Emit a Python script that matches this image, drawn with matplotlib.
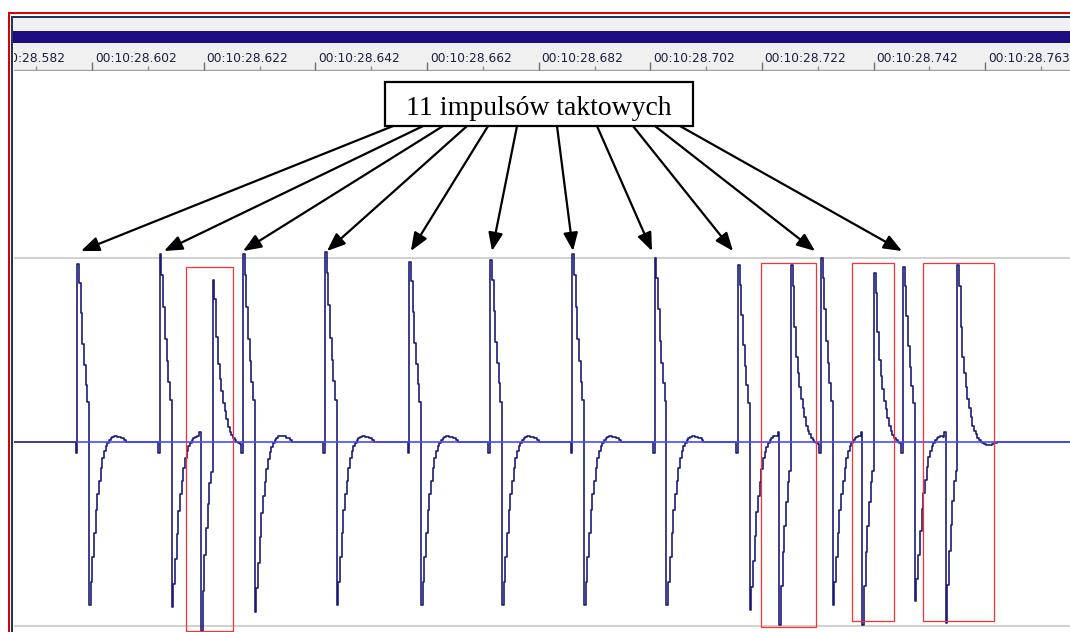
import numpy as np
import matplotlib
matplotlib.use("Agg")
import matplotlib.pyplot as plt
from matplotlib.patches import Rectangle

# ---------------- data (time: ms after 00:10:28, amplitude: full scale = 1) ----------------
TICK_MS = [582, 602, 622, 642, 662, 682, 702, 722, 742, 762]
TICK_LABELS = ["00:10:28.582", "00:10:28.602", "00:10:28.622", "00:10:28.642",
               "00:10:28.662", "00:10:28.682", "00:10:28.702", "00:10:28.722",
               "00:10:28.742", "00:10:28.763"]
MINOR_TICK_MS = [572, 592, 612, 632, 652, 672, 692, 712, 732, 752, 772]

SAMPLE_MS = 0.3  # sample spacing seen in the stepped trace

# 11 clock pulses (positive spike first, then negative spike)
CLOCK_RISE_MS = [599.3, 614.1, 629.0, 643.7, 658.8, 673.3, 688.0, 702.8, 717.7, 732.6, 747.3]
CLOCK_PEAK = [0.97, 1.02, 1.02, 1.03, 0.98, 0.99, 1.02, 1.00, 0.96, 1.00, 0.95]
CLOCK_TROUGH = [-0.89, -0.90, -0.93, -0.89, -0.89, -0.89, -0.89, -0.89, -0.92, -0.89, -0.87]
CLOCK_PRE = -0.06
CLOCK_POS_SHAPE = [1.00, 0.89, 0.72, 0.55, 0.43, 0.32, 0.22]
CLOCK_NEG_SHAPE = [1.00, 0.86, 0.71, 0.56, 0.42, 0.32, 0.24, 0.16, 0.10, 0.06, 0.03, 0.01,
                   -0.01, -0.02, -0.03, -0.035, -0.035, -0.03, -0.03, -0.02, -0.02, -0.01, 0.0]

# extra (inverted) pulses marked with red boxes
EXTRA_FALL_MS = [621.5, 725.1, 740.0, 754.9]
EXTRA_TROUGH = [-1.03, -1.00, -1.00, -0.99]
EXTRA_PEAK = [0.88, 0.96, 0.92, 0.96]
EXTRA_PRE = 0.05
EXTRA_NEG_SHAPE = [1.00, 0.79, 0.60, 0.46, 0.33, 0.22, 0.16]
EXTRA_POS_SHAPE = [1.00, 0.88, 0.65, 0.48, 0.39, 0.31, 0.24, 0.19, 0.14, 0.09, 0.06, 0.04,
                   0.02, 0.01, 0.0, -0.01, -0.015, -0.02, -0.02, -0.02, -0.02, -0.015,
                   -0.01, -0.01, 0.0]

LABEL_TEXT = "11 impulsów taktowych"
ARROW_TIP_MS = [599.97, 614.85, 629.01, 644.06, 659.08, 673.63, 688.15, 702.30, 716.82, 731.52, 747.11]
ARROW_TAIL_MS = [655.89, 661.26, 664.85, 669.15, 672.92, 678.11, 685.28, 692.45, 698.90, 702.84, 707.32]
MARKED_BOX_MS = [(618.8, 627.2), (721.8, 731.7), (738.1, 745.7), (750.8, 763.6)]
MARKED_BOX_AMP = [(-1.033, 0.951), (-1.011, 0.973), (-0.978, 0.973), (-0.978, 0.973)]

# ---------------- layout ----------------
W, H = 1070, 632
T_LEFT, T_RIGHT = 587.97, 777.21
V_TOP, V_BOT = 2.019, -1.038

fig = plt.figure(figsize=(W / 100, H / 100), dpi=100)
fig.patch.set_facecolor("white")

# window chrome
chrome = fig.add_axes([0, 0, 1, 1], zorder=0)
chrome.set_xlim(0, W)
chrome.set_ylim(H, 0)
chrome.axis("off")
for (x, y, w, h, c) in [
    (8.3, 12.3, W, 1.5, "#e00000"),
    (8.3, 12.3, 1.7, H, "#e00000"),
    (11.0, 15.5, W, 2.2, "#243656"),
    (11.0, 15.5, 2.3, H, "#243656"),
    (13.3, 17.7, W, 13.3, "#f0f0f0"),
    (13.3, 31.0, W, 12.3, "#1d0b80"),
]:
    chrome.add_patch(Rectangle((x, y), w, h, facecolor=c, edgecolor="none"))

# ruler
ax_r = fig.add_axes([14 / W, (H - 71) / H, (W - 14) / W, (71 - 43.3) / H], zorder=2)
ax_r.set_facecolor("#f0f0f0")
ax_r.set_xlim(T_LEFT, T_RIGHT)
ax_r.set_ylim(71, 43.3)
ax_r.axis("off")
ax_r.add_patch(Rectangle((0, 0), 1, 1, transform=ax_r.transAxes, facecolor="#f0f0f0",
                         edgecolor="none", zorder=0))
ax_r.axhline(69.5, color="#a0a0a0", lw=1.0)
ax_r.vlines(TICK_MS, 62.0, 69.5, color="#707070", lw=1.0)
ax_r.vlines(MINOR_TICK_MS, 65.5, 69.5, color="#909090", lw=1.0)
for t, lab in zip(TICK_MS, TICK_LABELS):
    ax_r.text(t + 0.48, 58.0, lab, ha="left", va="center", fontsize=8.8,
              color="#1c2040", family="DejaVu Sans", clip_on=True)

# main waveform axes
ax = fig.add_axes([14 / W, 0, (W - 14) / W, (H - 71) / H], zorder=1)
ax.set_facecolor("none")
ax.set_xlim(T_LEFT, T_RIGHT)
ax.set_ylim(V_BOT, V_TOP)
for s in ax.spines.values():
    s.set_visible(False)
ax.set_xticks([])
ax.set_yticks([])

ax.axhline(1.0, color="#d0d0d0", lw=1.4, zorder=1)
ax.axhline(-1.005, color="#d0d0d0", lw=1.4, zorder=1)

# build the stepped trace from the pulse lists
segments = []
for t, pk, tr in zip(CLOCK_RISE_MS, CLOCK_PEAK, CLOCK_TROUGH):
    n = len(CLOCK_POS_SHAPE)
    pts = [(t - SAMPLE_MS, CLOCK_PRE)]
    pts += [(t + k * SAMPLE_MS, pk * s) for k, s in enumerate(CLOCK_POS_SHAPE)]
    pts += [(t + (n + k) * SAMPLE_MS, tr * s) for k, s in enumerate(CLOCK_NEG_SHAPE)]
    segments.append(pts)
for t, tr, pk in zip(EXTRA_FALL_MS, EXTRA_TROUGH, EXTRA_PEAK):
    n = len(EXTRA_NEG_SHAPE)
    pts = [(t - SAMPLE_MS, EXTRA_PRE)]
    pts += [(t + k * SAMPLE_MS, tr * s) for k, s in enumerate(EXTRA_NEG_SHAPE)]
    pts += [(t + (n + k) * SAMPLE_MS, pk * s) for k, s in enumerate(EXTRA_POS_SHAPE)]
    segments.append(pts)
segments.sort(key=lambda p: p[0][0])

ts, vs = [T_LEFT], [0.0]
for i, seg in enumerate(segments):
    nxt = segments[i + 1][0][0] if i + 1 < len(segments) else np.inf
    for t, v in seg:
        if t < nxt:
            ts.append(t)
            vs.append(v)
ts.append(T_RIGHT)
vs.append(0.0)

ax.plot(ts, vs, drawstyle="steps-post", color="#1c1c78", lw=1.2, zorder=2)
ax.plot([CLOCK_RISE_MS[0], T_RIGHT], [0, 0], color="#4a4aff", lw=1.2, zorder=3)

# red marking boxes
for (x0, x1), (y0, y1) in zip(MARKED_BOX_MS, MARKED_BOX_AMP):
    ax.add_patch(Rectangle((x0, y0), x1 - x0, y1 - y0, fill=False, edgecolor="#ff3030",
                           lw=0.9, zorder=4))

# label box + arrows
BOX_X = (654.42, 709.62)
BOX_Y = (1.719, 1.959)
ax.add_patch(Rectangle((BOX_X[0], BOX_Y[0]), BOX_X[1] - BOX_X[0], BOX_Y[1] - BOX_Y[0],
                       facecolor="white", edgecolor="black", lw=1.6, zorder=6))
ax.text((BOX_X[0] + BOX_X[1]) / 2, 1.779, LABEL_TEXT, ha="center", va="baseline",
        fontsize=20, family="Liberation Serif", color="black", zorder=7)
for tip, tail in zip(ARROW_TIP_MS, ARROW_TAIL_MS):
    ax.annotate("", xy=(tip, 1.038), xytext=(tail, BOX_Y[0]),
                arrowprops=dict(arrowstyle="-|>,head_length=0.55,head_width=0.22",
                                lw=1.6, color="black", shrinkA=0, shrinkB=0,
                                mutation_scale=20), zorder=5)

fig.savefig("out.png", dpi=100)
